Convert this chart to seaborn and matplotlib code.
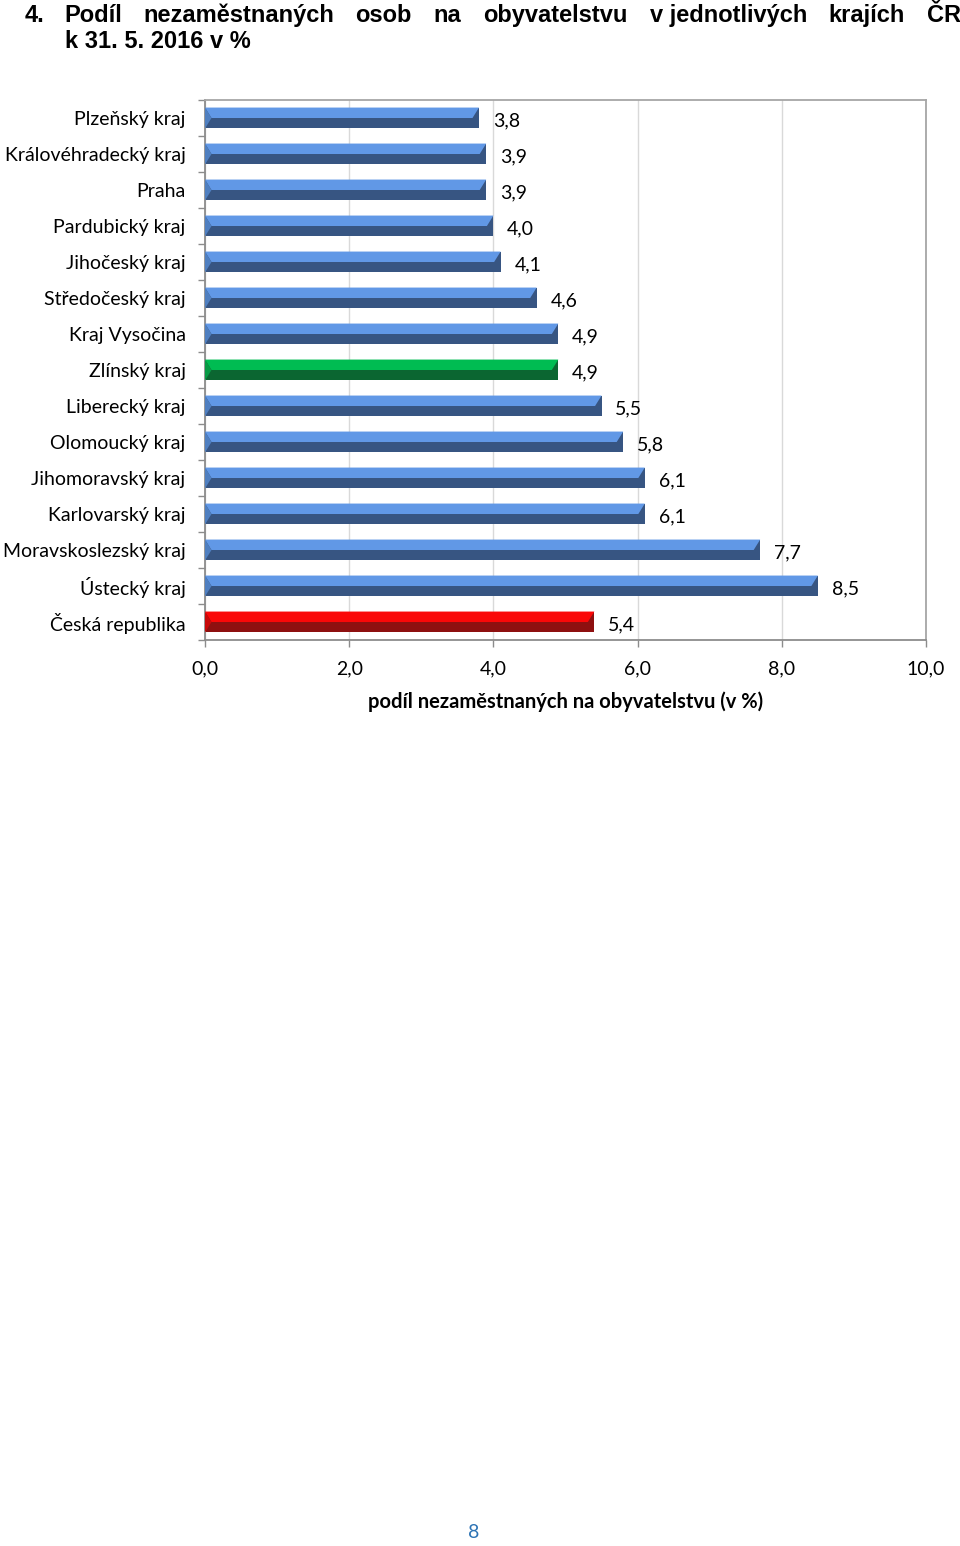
import matplotlib
matplotlib.use("Agg")
import matplotlib.pyplot as plt
import seaborn as sns
import numpy as np
import pandas as pd
from matplotlib.patches import Polygon

categories = ["Plzeňský kraj", "Královéhradecký kraj", "Praha", "Pardubický kraj",
              "Jihočeský kraj", "Středočeský kraj", "Kraj Vysočina", "Zlínský kraj",
              "Liberecký kraj", "Olomoucký kraj", "Jihomoravský kraj", "Karlovarský kraj",
              "Moravskoslezský kraj", "Ústecký kraj", "Česká republika"]
values = [3.8, 3.9, 3.9, 4.0, 4.1, 4.6, 4.9, 4.9, 5.5, 5.8, 6.1, 6.1, 7.7, 8.5, 5.4]
groups = ["kraj"] * 7 + ["zlin"] + ["kraj"] * 6 + ["cr"]
value_labels = ["3,8", "3,9", "3,9", "4,0", "4,1", "4,6", "4,9", "4,9", "5,5", "5,8",
                "6,1", "6,1", "7,7", "8,5", "5,4"]
x_ticks = [0, 2, 4, 6, 8, 10]
x_ticklabels = ["0,0", "2,0", "4,0", "6,0", "8,0", "10,0"]
title_words = ["4.", "Podíl", "nezaměstnaných", "osob", "na", "obyvatelstvu",
               "v jednotlivých", "krajích", "ČR"]
title_line2 = "k 31. 5. 2016 v %"
x_label = "podíl nezaměstnaných na obyvatelstvu (v %)"
page_number = "8"

# styles
dark = {"kraj": "#375582", "zlin": "#0B6631", "cr": "#8E1010"}
light = {"kraj": "#6198E6", "zlin": "#00BC52", "cr": "#FA0808"}
bevel = {"kraj": "#4F7FC0", "zlin": "#079A45", "cr": "#C80A0A"}

sns.set_theme(style="white")
plt.rcParams["font.family"] = ["Lato", "DejaVu Sans"]
plt.rcParams["text.color"] = "black"
plt.rcParams["axes.labelcolor"] = "black"
plt.rcParams["xtick.color"] = "black"
plt.rcParams["ytick.color"] = "black"

fig = plt.figure(figsize=(9.6, 15.46), dpi=100)
ax = fig.add_axes([205 / 960, 1 - 640 / 1546, (926 - 205) / 960, 540 / 1546])

df = pd.DataFrame({"cat": categories, "val": values, "grp": groups})
bar_h = 0.58
sns.barplot(data=df, x="val", y="cat", hue="grp", palette=dark, orient="h",
            width=bar_h, dodge=False, legend=False, ax=ax, saturation=1,
            linewidth=0)

# bevel effect: lighter upper half, chamfered ends
for i, (v, g) in enumerate(zip(values, groups)):
    top = i - bar_h / 2
    mid = i
    ch = 0.09  # chamfer size in x data units
    poly = Polygon([(0, top), (v, top), (v - ch, mid), (ch, mid)], closed=True,
                   facecolor=light[g], edgecolor="none", zorder=3)
    ax.add_patch(poly)
    tri = Polygon([(0, top), (ch, mid), (0, i + bar_h / 2)], closed=True,
                  facecolor=bevel[g], edgecolor="none", zorder=3)
    ax.add_patch(tri)
    ax.text(v + 0.19, i + 0.07, value_labels[i], ha="left", va="center",
            fontsize=14, color="black", zorder=5)

ax.set_xlim(0, 10)
ax.set_ylim(len(categories) - 0.5, -0.5)
ax.set_xticks(x_ticks)
ax.set_xticklabels(x_ticklabels, fontsize=14)
ax.set_yticks(range(len(categories)))
ax.set_yticklabels(categories, fontsize=14)
ax.set_yticks(np.arange(-0.5, len(categories), 1.0), minor=True)
ax.tick_params(axis="y", which="major", length=0, pad=14, labelcolor="black")
ax.tick_params(axis="y", which="minor", length=5, width=1, color="#8C8C8C", direction="out", left=True)
ax.tick_params(axis="x", which="major", length=5, width=1, color="#8C8C8C", direction="out",
               bottom=True, pad=10, labelcolor="black")
ax.set_ylabel("")
ax.set_xlabel(x_label, fontsize=14.5, fontweight="bold", labelpad=10, color="black")
ax.grid(axis="x", color="#D9D9D9", linewidth=1)
ax.set_axisbelow(True)
for s in ["top", "right"]:
    ax.spines[s].set_color("#A6A6A6")
    ax.spines[s].set_linewidth(1.3)
for s in ["left", "bottom"]:
    ax.spines[s].set_color("#8C8C8C")
    ax.spines[s].set_linewidth(1.3)

# title, justified
title_x = [25, 64, 143, 355, 433, 483, 650, 828, 927]
for w, xp in zip(title_words, title_x):
    fig.text(xp / 960, 1 - 22 / 1546, w, fontsize=17, fontweight="bold", color="black",
             family=["Liberation Sans", "DejaVu Sans"], va="baseline", ha="left")
fig.text(65 / 960, 1 - 48 / 1546, title_line2, fontsize=17, fontweight="bold", color="black",
         family=["Liberation Sans", "DejaVu Sans"], va="baseline", ha="left")
fig.text(474 / 960, 1 - 1532 / 1546, page_number, fontsize=14, color="#2E74B5",
         ha="center", va="center")

fig.savefig("out.png", dpi=100, facecolor="white")
